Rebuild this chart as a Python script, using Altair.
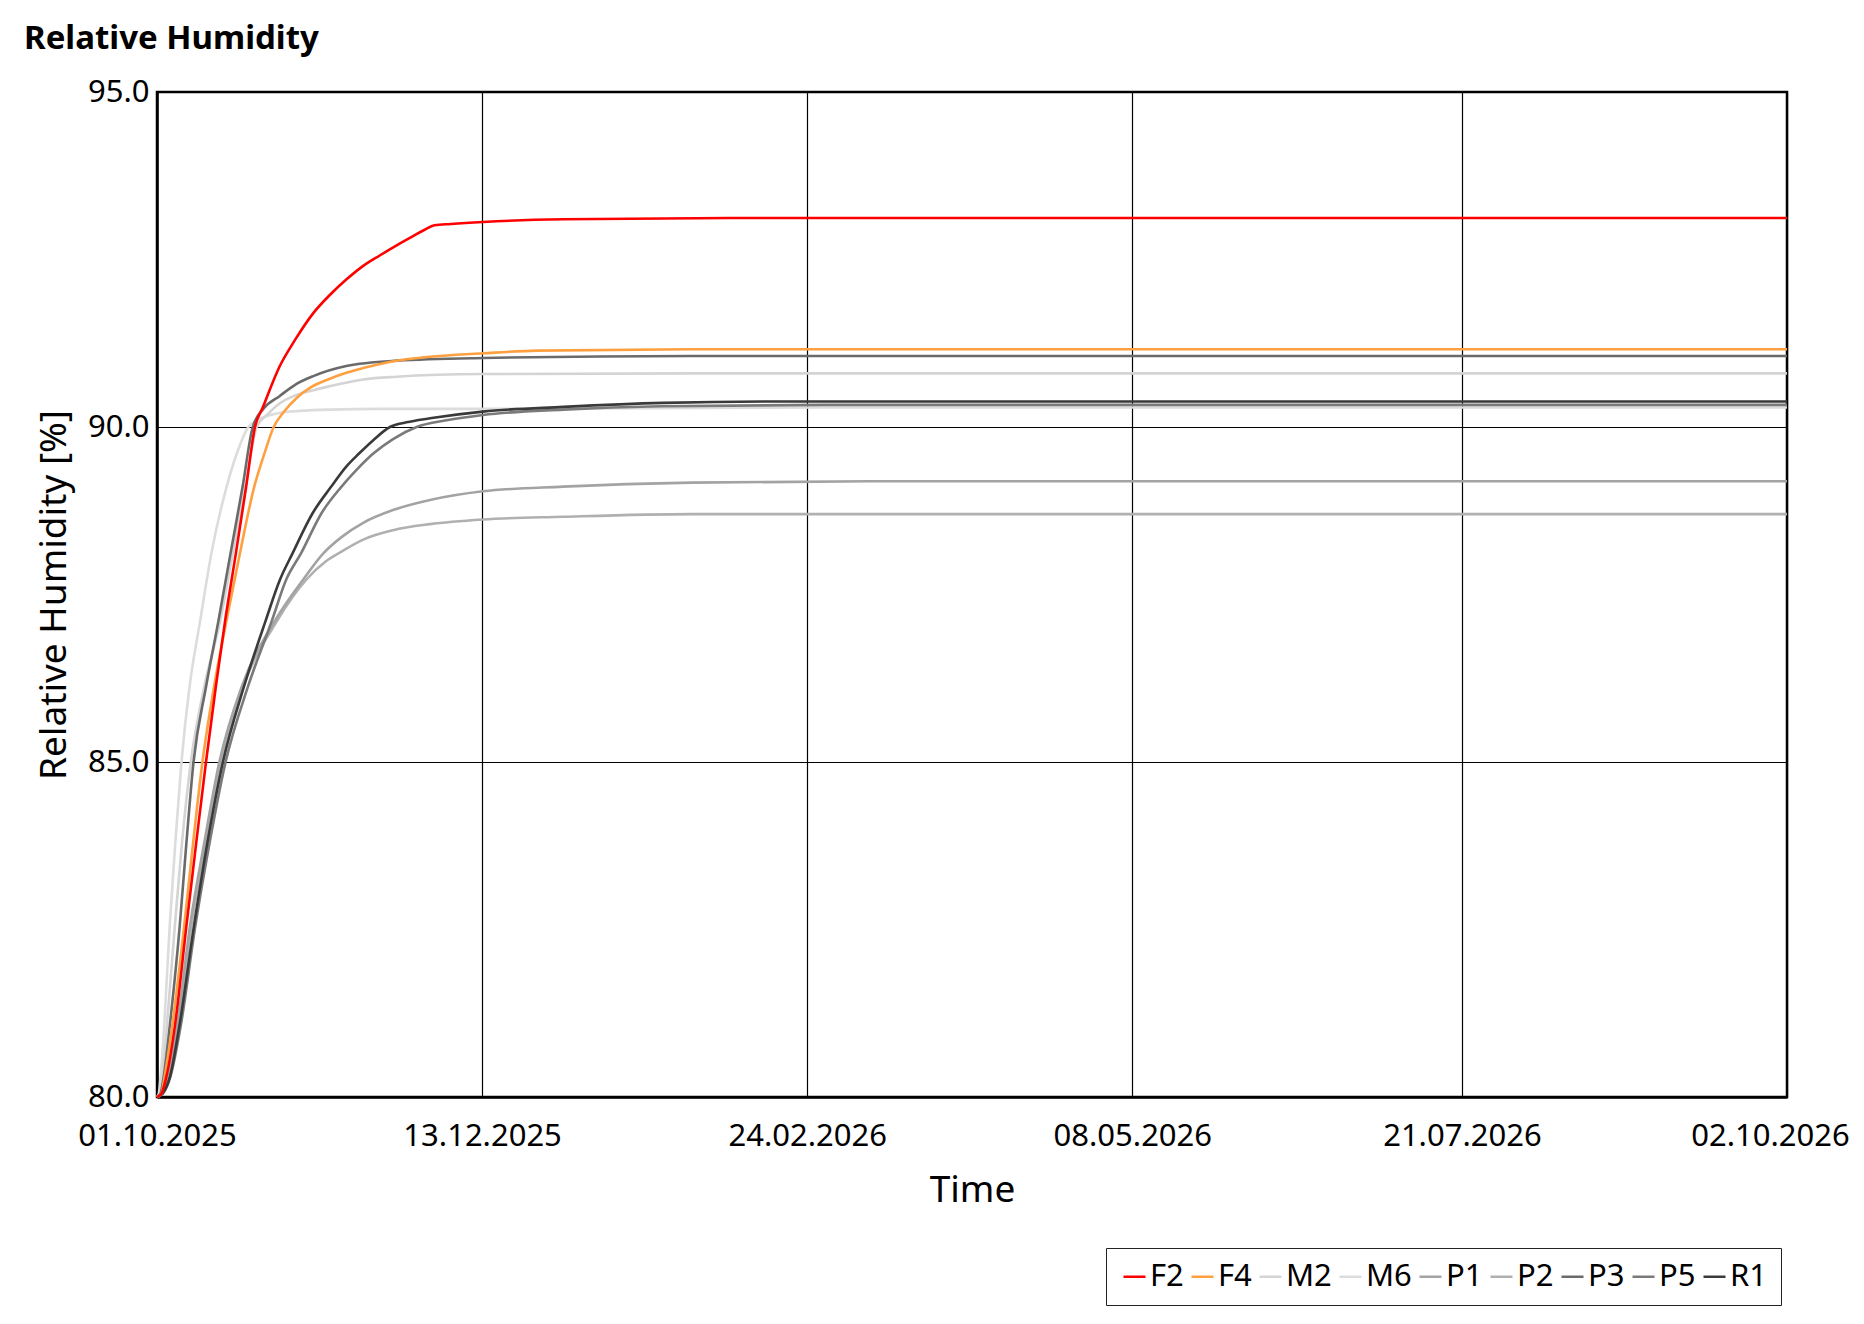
import altair as alt
import pandas as pd

# ---- data (days since 01.10.2025, relative humidity %) ----
series_names = ["F2", "F4", "M2", "M6", "P1", "P2", "P3", "P5", "R1"]
series_colors = ["#ff0000", "#ffa040", "#d4d4d4", "#dcdcdc", "#a3a3a3",
                 "#b0b0b0", "#6a6a6a", "#7a7a7a", "#3a3a3a"]

f2_days = [0, 1.0, 2.1, 4.0, 6.6, 8.8, 11.0, 13.2, 15.3, 17.7, 20.0, 22.0, 23.8,
           27.5, 31.0, 35.1, 38.8, 42.5, 46.0, 50.0, 54.0, 57.5, 60.0, 62.3, 66.0,
           73.2, 91.2, 128.6, 200, 366]
f2_vals = [80.0, 80.05, 80.3, 81.05, 82.55, 83.79, 85.0, 86.12, 87.11, 88.11, 89.1,
           90.0, 90.3, 90.9, 91.3, 91.7, 91.97, 92.2, 92.39, 92.56, 92.72, 92.85,
           92.94, 93.01, 93.03, 93.06, 93.10, 93.12, 93.12, 93.12]

f4_days = [0, 1.0, 1.7, 3.4, 6.1, 8.1, 10.2, 12.8, 15.6, 18.6, 21.8, 24.0, 26.2,
           28.4, 31.3, 34.5, 38.8, 42.5, 46.3, 53.8, 60, 73.2, 85.2, 120, 200, 366]
f4_vals = [80.0, 80.05, 80.3, 81.05, 82.55, 83.79, 85.0, 86.12, 87.11, 88.11, 89.1,
           89.58, 90.0, 90.22, 90.43, 90.59, 90.72, 90.81, 90.88, 90.99, 91.04, 91.10,
           91.14, 91.16, 91.16, 91.16]

m2_days = [0, 0.6, 1.2, 2.2, 4.0, 5.6, 7.6, 10.6, 14.2, 17.0, 19.8, 22.4, 25.0,
           27.5, 31.0, 35.1, 38.8, 46.3, 53.8, 73.2, 120, 366]
m2_vals = [80.0, 80.05, 80.3, 81.05, 82.55, 83.79, 85.0, 86.12, 87.11, 88.11, 89.1,
           90.0, 90.2, 90.35, 90.47, 90.55, 90.61, 90.71, 90.75, 90.79, 90.8, 90.8]

m6_days = [0, 0.4, 0.8, 1.6, 2.85, 4.1, 5.5, 7.3, 9.7, 12.2, 15.6, 18.0, 20.5,
           22.5, 24.5, 27.5, 32, 38.8, 50, 73.2, 150, 366]
m6_vals = [80.0, 80.05, 80.3, 81.05, 82.55, 83.79, 85.0, 86.12, 87.11, 88.11, 89.1,
           89.62, 90.0, 90.1, 90.16, 90.21, 90.24, 90.26, 90.27, 90.27, 90.29, 90.29]

p1_days = [0, 1.0, 2.6, 4.5, 7.4, 10.6, 14.0, 19.0, 26.5, 32.8, 37.3, 41.5, 46.3,
           53, 61.3, 73.2, 91.2, 120, 160, 366]
p1_vals = [80.0, 80.05, 80.3, 81.05, 82.55, 83.79, 85.0, 86.12, 87.11, 87.72, 88.11,
           88.36, 88.57, 88.76, 88.91, 89.04, 89.11, 89.17, 89.19, 89.19]

p2_days = [0, 1.1, 2.8, 4.8, 7.7, 10.9, 14.3, 19.3, 27.0, 33.5, 38.0, 41.4, 46.3,
           53, 61.3, 73.2, 91.2, 120, 366]
p2_vals = [80.0, 80.05, 80.3, 81.05, 82.55, 83.79, 85.0, 86.12, 87.11, 87.72, 88.0,
           88.14, 88.32, 88.46, 88.55, 88.62, 88.66, 88.70, 88.70]

p3_days = [0, 0.8, 1.5, 2.85, 5.1, 6.6, 8.2, 11.0, 13.8, 16.5, 19.2, 21.5, 24.0,
           27.5, 31.0, 35.1, 42.5, 53.8, 73.2, 120, 366]
p3_vals = [80.0, 80.05, 80.3, 81.05, 82.55, 83.79, 85.0, 86.12, 87.11, 88.11, 89.1,
           90.0, 90.28, 90.46, 90.63, 90.76, 90.91, 90.99, 91.03, 91.06, 91.06]

p5_days = [0, 1.3, 3.0, 5.3, 8.6, 11.8, 15.4, 20.4, 25.8, 29.0, 32.3, 37.0, 41.3,
           44.8, 48.5, 53, 58.3, 65, 73.2, 91.2, 113, 150, 366]
p5_vals = [80.0, 80.05, 80.3, 81.05, 82.55, 83.79, 85.0, 86.12, 87.11, 87.72, 88.11,
           88.72, 89.1, 89.36, 89.6, 89.82, 90.0, 90.1, 90.18, 90.26, 90.31, 90.33, 90.33]

r1_days = [0, 1.2, 2.9, 5.0, 8.3, 11.3, 14.8, 19.5, 24.4, 27.6, 30.4, 35.0, 39.0,
           42.5, 45.3, 48.5, 52.3, 56, 61.3, 73.2, 91.2, 113.6, 140, 366]
r1_vals = [80.0, 80.05, 80.3, 81.05, 82.55, 83.79, 85.0, 86.12, 87.11, 87.72, 88.11,
           88.72, 89.1, 89.41, 89.6, 89.8, 90.0, 90.07, 90.13, 90.23, 90.30, 90.36,
           90.38, 90.38]

tick_dates = [(2025, 10, 1), (2025, 12, 13), (2026, 2, 24), (2026, 5, 8),
              (2026, 7, 21), (2026, 10, 2)]
y_ticks = [80, 85, 90, 95]

# drawing order: greys first, then orange, then red on top
draw_order = [("M6", m6_days, m6_vals), ("M2", m2_days, m2_vals),
              ("P2", p2_days, p2_vals), ("P1", p1_days, p1_vals),
              ("P5", p5_days, p5_vals), ("P3", p3_days, p3_vals),
              ("R1", r1_days, r1_vals), ("F4", f4_days, f4_vals),
              ("F2", f2_days, f2_vals)]

start = pd.Timestamp("2025-10-01")
rows = []
for name, ds, vs in draw_order:
    for d, v in zip(ds, vs):
        t = start + pd.to_timedelta(d, unit="D")
        rows.append({"series": name, "date": t.strftime("%Y-%m-%dT%H:%M:%S"), "value": v})
df = pd.DataFrame(rows)

FONT = "Noto Sans"

def dt(y, m, d):
    return alt.DateTime(year=y, month=m, date=d)

x_axis = alt.Axis(
    values=[dt(*t) for t in tick_dates],
    format="%d.%m.%Y",
    title="Time",
    ticks=False,
    labelFlush=False,
    labelPadding=24,
    labelFontSize=31,
    labelFont=FONT,
    labelColor="black",
    labelOffset={"condition": {"test": "datum.index == 1", "value": -17}, "value": 0},
    titleFontSize=37,
    titleFont=FONT,
    titleFontWeight="normal",
    titleColor="black",
    titlePadding=21,
    grid=True,
    gridColor="black",
    gridWidth=1.2,
    domainColor="black",
    domainWidth=2.5,
)

y_axis = alt.Axis(
    values=y_ticks,
    format=".1f",
    title="Relative Humidity [%]",
    ticks=False,
    labelPadding=8,
    labelFontSize=31,
    labelFont=FONT,
    labelColor="black",
    titleFontSize=37,
    titleFont=FONT,
    titleFontWeight="normal",
    titleColor="black",
    titlePadding=14,
    grid=True,
    gridColor="black",
    gridWidth=1.2,
    domainColor="black",
    domainWidth=2.5,
)

legend = alt.Legend(
    orient="none",
    legendX=949,
    legendY=1156,
    direction="horizontal",
    columns=9,
    title=None,
    symbolType="stroke",
    symbolSize=484,
    symbolStrokeWidth=2.5,
    labelFontSize=31,
    labelFont=FONT,
    labelColor="black",
    labelOffset=0,
    columnPadding=2,
    padding=13,
    strokeColor="#222222",
    fillColor="white",
)

chart = alt.Chart(df).mark_line(strokeWidth=2.6, interpolate="monotone").encode(
    x=alt.X("date:T",
            scale=alt.Scale(domain=[dt(2025, 10, 1), dt(2026, 10, 2)]),
            axis=x_axis),
    y=alt.Y("value:Q", scale=alt.Scale(domain=[80, 95], nice=False), axis=y_axis),
    color=alt.Color("series:N",
                    scale=alt.Scale(domain=series_names, range=series_colors),
                    legend=legend),
).properties(
    width=1630,
    height=1005,
    title=alt.TitleParams(
        "Relative Humidity",
        anchor="start",
        frame="group",
        dx=-133,
        dy=43,
        offset=37,
        baseline="alphabetic",
        fontSize=33,
        font=FONT,
        fontWeight="bold",
        color="black",
    ),
    autosize=alt.AutoSizeParams(type="none"),
    padding={"left": 149, "top": 84, "right": 69, "bottom": 210},
).configure_view(
    stroke="black",
    strokeWidth=2.5,
)

chart.save("out.html", embed_options={"renderer": "svg", "actions": False})
